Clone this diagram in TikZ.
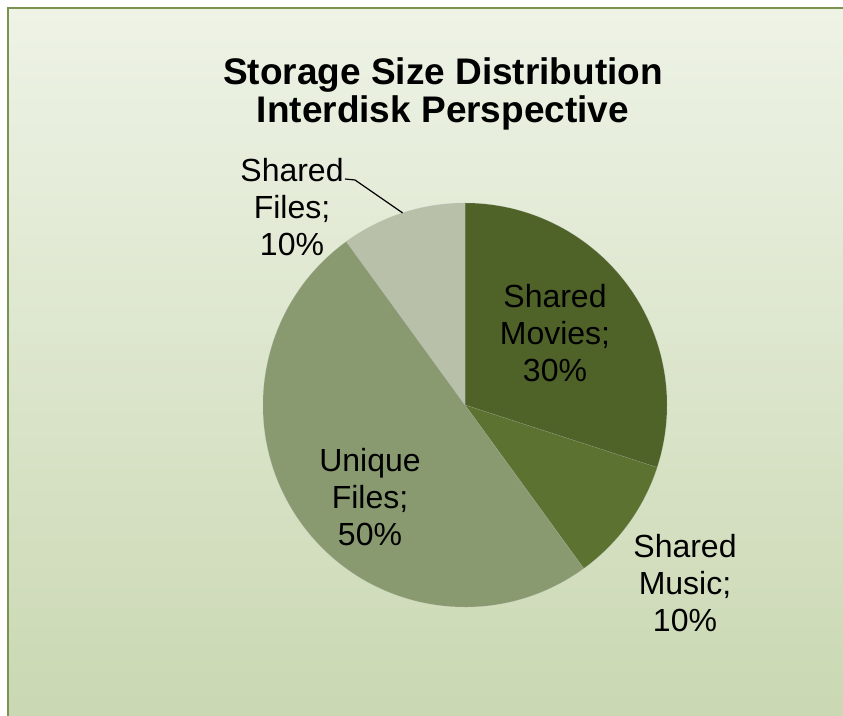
\documentclass[tikz,border=0pt]{standalone}
\usepackage{fontspec}
\setmainfont{Liberation Sans}
\usetikzlibrary{calc}

\definecolor{frameline}{HTML}{7A9350}
\definecolor{bgtop}{HTML}{EEF3E6}
\definecolor{bgbottom}{HTML}{C9D7B1}
\definecolor{movies}{HTML}{4F6228}
\definecolor{music}{HTML}{5B7230}
\definecolor{unique}{HTML}{8A9A70}
\definecolor{shfiles}{HTML}{B9C0AA}

\tikzset{
    lbl/.style={align=center, inner sep=0pt, font=\fontsize{32}{37}\selectfont},
    ttl/.style={align=center, inner sep=0pt, font=\fontsize{37}{38}\selectfont\bfseries},
    slice/.style={draw=white!70!black, draw opacity=0.3, line width=0.5pt}
}

\begin{document}
\begin{tikzpicture}[x=1pt,y=1pt]
    \pgfmathsetmacro{\r}{202}
    \clip (0,0) rectangle (843,715);
    \useasboundingbox (0,0) rectangle (843,715);
    \fill[white] (0,0) rectangle (843,715);

    % chart area
    \shade[top color=bgtop, bottom color=bgbottom, draw=frameline, line width=2pt]
        (8,707) rectangle (860,-20);

    \node[ttl] (title) at (443,621) {Storage Size Distribution\\Interdisk Perspective};

    \coordinate (O) at (465,310);

    % slices, clockwise from the top
    \fill[movies, slice] (O) -- ($(O)+(90:\r)$) arc (90:-18:\r) -- cycle;
    \fill[music, slice] (O) -- ($(O)+(-18:\r)$) arc (-18:-54:\r) -- cycle;
    \fill[unique, slice] (O) -- ($(O)+(-54:\r)$) arc (-54:-234:\r) -- cycle;
    \fill[shfiles, slice] (O) -- ($(O)+(126:\r)$) arc (126:90:\r) -- cycle;

    \node[lbl] (lmovies) at (555,382) {Shared\\Movies;\\30\%};
    \node[lbl] (lmusic) at (685,132) {Shared\\Music;\\10\%};
    \node[lbl] (lunique) at (370,218) {Unique\\Files;\\50\%};
    \node[lbl] (lfiles) at (292,508) {Shared\\Files;\\10\%};

    % leader line
    \coordinate (leadA) at (345,536);
    \coordinate (leadB) at (355,535);
    \coordinate (leadC) at ($(O)+(108:\r)$);
    \draw[line width=1.2pt] (leadA) -- (leadB) -- (leadC);

\end{tikzpicture}
\end{document}
